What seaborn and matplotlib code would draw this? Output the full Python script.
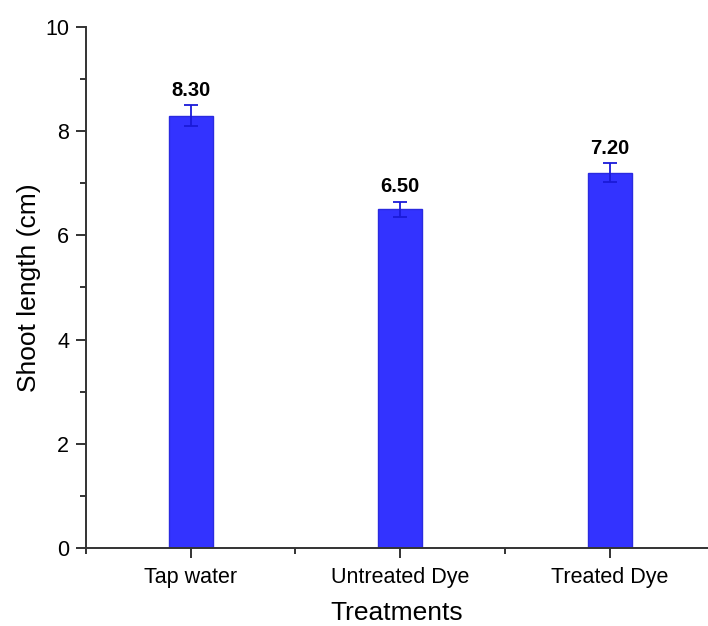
import matplotlib
matplotlib.use("Agg")
import matplotlib.pyplot as plt
from matplotlib.ticker import MultipleLocator
import seaborn as sns
import pandas as pd

treatments = ["Tap water", "Untreated Dye", "Treated Dye"]
shoot_length = [8.30, 6.50, 7.20]
errors = [0.20, 0.15, 0.18]

df = pd.DataFrame({"Treatments": treatments, "Shoot length (cm)": shoot_length})

sns.set_theme(style="ticks")
plt.rcParams["font.family"] = ["Liberation Sans", "DejaVu Sans"]

fig = plt.figure(figsize=(7.08, 6.26), dpi=100)
ax = fig.add_axes([0.1215, 0.1246, 0.8785, 0.8323])

bar_color = "#3333FF"
sns.barplot(data=df, x="Treatments", y="Shoot length (cm)", color=bar_color,
            saturation=1, width=0.21, edgecolor="#2A2AE0", linewidth=1.0,
            errorbar=None, ax=ax)

xs = range(len(treatments))
ax.errorbar(xs, shoot_length, yerr=errors, fmt="none", ecolor="#1A1AD9",
            elinewidth=1.3, capsize=5, capthick=1.3, zorder=3)

for x, v, e in zip(xs, shoot_length, errors):
    ax.annotate(f"{v:.2f}", (x, v + e), xytext=(0, 4), textcoords="offset points",
                ha="center", va="bottom", fontsize=14.5, fontweight="bold", color="black")

ax.set_ylim(0, 10)
ax.set_xlim(-0.5, 2.47)
ax.yaxis.set_major_locator(MultipleLocator(2))
ax.yaxis.set_minor_locator(MultipleLocator(1))
ax.set_xticks([0, 1, 2])
ax.set_xticks([-0.5, 0.5, 1.5], minor=True)

ax.tick_params(axis="both", which="major", direction="out", length=7, width=1.4,
               color="#333333", labelsize=15.5, labelcolor="black", pad=5)
ax.tick_params(axis="both", which="minor", direction="out", length=4, width=1.4,
               color="#333333")
ax.tick_params(axis="x", which="major", pad=7)

for side in ["top", "right"]:
    ax.spines[side].set_visible(False)
for side in ["left", "bottom"]:
    ax.spines[side].set_linewidth(1.4)
    ax.spines[side].set_color("#333333")

ax.set_xlabel("Treatments", fontsize=19, labelpad=9, color="black")
ax.set_ylabel("Shoot length (cm)", fontsize=19, labelpad=3, color="black")

fig.savefig("out.png", dpi=100)
